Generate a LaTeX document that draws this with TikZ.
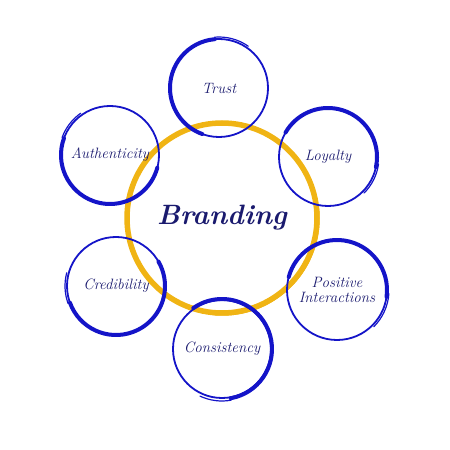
\documentclass[tikz,border=0pt]{standalone}
\usepackage{xcolor}
\usepackage{tikz}
\usetikzlibrary{positioning,calc}
\definecolor{ringblue}{HTML}{1414C8}
\definecolor{inkblue}{HTML}{1A1A6E}
\definecolor{brandyellow}{HTML}{F0B414}

\begin{document}
\begin{tikzpicture}[x=1pt,y=1pt,
  ring/.style={circle,draw=ringblue,line width=1.8pt,minimum size=98pt,inner sep=0pt,
               text=inkblue,font=\fontsize{15}{15}\selectfont\itshape,align=center},
  thickarc/.style={draw=ringblue,line width=4pt,line cap=round},
  tailarc/.style={draw=ringblue,line width=1.2pt,line cap=round}]
  \useasboundingbox (0,0) rectangle (450,450);
  % centre
  \node[circle,draw=brandyellow,line width=5.5pt,minimum size=190pt,inner sep=0pt,
        text=inkblue,font=\fontsize{28}{30}\selectfont\bfseries\itshape] (brand) at (222,232) {Branding};
  \draw[brandyellow,line width=1.5pt] (brand.center) ++(5:97) arc[start angle=5,end angle=-95,radius=97];
  % outer rings
  \node[ring] (trust) at (219,362) {Trust};
  \node[ring] (loyalty) at (328,293) {Loyalty};
  \node[ring] (authenticity) at (110,295) {Authenticity};
  \node[ring] (credibility) at (116,164) {Credibility};
  \node[ring] (consistency) at (222,101) {Consistency};
  \node[ring,minimum size=100pt] (positive) at (337,160) {Positive\\Interactions};
  % heavy strokes
  \draw[thickarc] (trust.center) ++(95:49) arc[start angle=95,end angle=250,radius=49];
  \draw[tailarc] (trust.center) ++(95:51) arc[start angle=95,end angle=55,radius=51];
  \draw[thickarc] (loyalty.center) ++(-12:49) arc[start angle=-12,end angle=150,radius=49];
  \draw[tailarc] (loyalty.center) ++(-8:51) arc[start angle=-8,end angle=-45,radius=51];
  \draw[thickarc] (authenticity.center) ++(160:49) arc[start angle=160,end angle=345,radius=49];
  \draw[tailarc] (authenticity.center) ++(160:51) arc[start angle=160,end angle=125,radius=51];
  \draw[thickarc] (credibility.center) ++(200:49) arc[start angle=200,end angle=390,radius=49];
  \draw[tailarc] (credibility.center) ++(200:51) arc[start angle=200,end angle=165,radius=51];
  \draw[thickarc] (consistency.center) ++(-80:50) arc[start angle=-80,end angle=125,radius=50];
  \draw[tailarc] (consistency.center) ++(-80:52) arc[start angle=-80,end angle=-115,radius=52];
  \draw[thickarc] (positive.center) ++(-8:50) arc[start angle=-8,end angle=165,radius=50];
  \draw[tailarc] (positive.center) ++(-4:52) arc[start angle=-4,end angle=-45,radius=52];
\end{tikzpicture}
\end{document}
